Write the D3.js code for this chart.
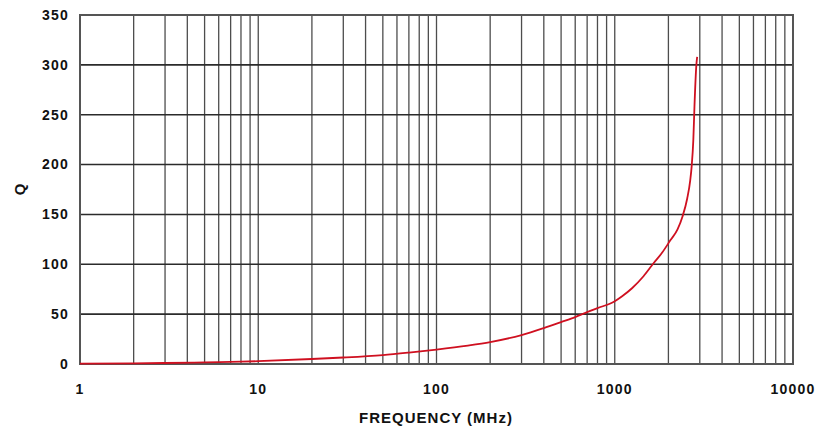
<!DOCTYPE html>
<html>
<meta charset="utf-8">
<head>
    <script src="https://d3js.org/d3.v7.min.js"></script>
</head>

<style>
  body { margin: 0; background: #fff; }
  svg text {
  font-family: "Liberation Sans", Arial, sans-serif;
  font-weight: bold;
  fill: #111;
  }
  svg .tick-label {
  font-size: 14px;
  letter-spacing: 1.2px;
  }
  svg .axis-title {
  font-size: 15px;
  letter-spacing: 1px;
  }
  svg .grid-v {
  stroke: #4d4d4d;
  stroke-width: 1.3;
  }
  svg .grid-h {
  stroke: #2b2b2b;
  stroke-width: 1.6;
  }
  svg .q-line {
  fill: none;
  stroke: #cf1020;
  stroke-width: 1.8;
  }
</style>

<body>
    <script>
        // frequency (MHz) and Q
        var freq = [1, 2, 3, 5, 8, 10, 20, 30, 50, 70, 100, 150, 200, 300, 400, 500, 600, 700, 800,
                    1000, 1100, 1250, 1450, 1650, 1850, 2050, 2250, 2400, 2550, 2650, 2700, 2760, 2800, 2870, 2900];
        var qValues = [0.3, 0.6, 1, 1.6, 2.3, 2.8, 5, 6.5, 9, 11.5, 14.5, 18.5, 22, 29, 36, 42, 47, 52, 56,
                       63, 68, 76, 88, 101, 112, 124, 135, 148, 166, 184, 198, 225, 258, 300, 308];

        var xTicks = [1, 10, 100, 1000, 10000];
        var yTicks = [0, 50, 100, 150, 200, 250, 300, 350];

        var width = 825,
            height = 426,
            plotLeft = 80, plotRight = 793, plotTop = 15, plotBottom = 364;

        var svg = d3.select("body").append("svg")
            .attr("width", width)
            .attr("height", height);

        var x = d3.scaleLog().domain([1, 10000]).range([plotLeft, plotRight]);
        var y = d3.scaleLinear().domain([0, 350]).range([plotBottom, plotTop]);

        // vertical grid: every integer multiple inside each decade
        var vLines = [];
        for (var d = 1; d < 10000; d *= 10) {
            for (var m = 1; m < 10; m++) {
                if (d * m > 1) vLines.push(d * m);
            }
        }
        var grid = svg.append("g");
        grid.selectAll("line.grid-v")
            .data(vLines)
            .enter().append("line")
            .attr("class", "grid-v")
            .attr("x1", function(d) { return x(d); })
            .attr("x2", function(d) { return x(d); })
            .attr("y1", plotTop)
            .attr("y2", plotBottom);

        grid.selectAll("line.grid-h")
            .data(yTicks.slice(1, -1))
            .enter().append("line")
            .attr("class", "grid-h")
            .attr("x1", plotLeft)
            .attr("x2", plotRight)
            .attr("y1", function(d) { return y(d); })
            .attr("y2", function(d) { return y(d); });

        // frame
        svg.append("rect")
            .attr("x", plotLeft).attr("y", plotTop)
            .attr("width", plotRight - plotLeft).attr("height", plotBottom - plotTop)
            .attr("fill", "none")
            .attr("stroke", "#555")
            .attr("stroke-width", 2);

        // curve
        var line = d3.line()
            .x(function(d, i) { return x(freq[i]); })
            .y(function(d) { return y(d); })
            .curve(d3.curveMonotoneX);

        svg.append("path")
            .datum(qValues)
            .attr("class", "q-line")
            .attr("d", line);

        // tick labels
        svg.selectAll("text.ylab")
            .data(yTicks)
            .enter().append("text")
            .attr("class", "tick-label ylab")
            .attr("x", 69)
            .attr("y", function(d) { return y(d); })
            .attr("dy", "0.35em")
            .attr("text-anchor", "end")
            .text(function(d) { return d; });

        svg.selectAll("text.xlab")
            .data(xTicks)
            .enter().append("text")
            .attr("class", "tick-label xlab")
            .attr("x", function(d) { return x(d); })
            .attr("y", 394)
            .attr("text-anchor", "middle")
            .text(function(d) { return d; });

        svg.append("text")
            .attr("class", "axis-title")
            .attr("x", 436)
            .attr("y", 423)
            .attr("text-anchor", "middle")
            .text("FREQUENCY (MHz)");

        svg.append("text")
            .attr("class", "axis-title")
            .attr("transform", "translate(25,189) rotate(-90)")
            .attr("text-anchor", "middle")
            .text("Q");
    </script>
</body>
</html>
